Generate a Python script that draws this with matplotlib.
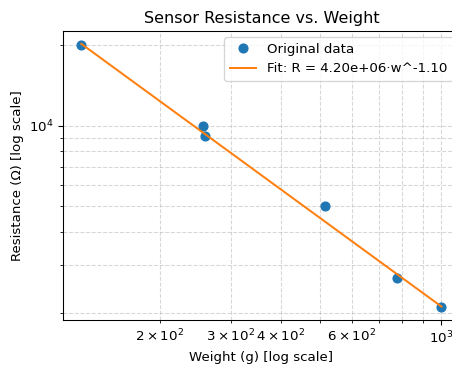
import numpy as np
import matplotlib
matplotlib.use("Agg")
import matplotlib.pyplot as plt

weights = [128, 256, 259, 515, 775, 1000]
resistance = [20000, 10000, 9100, 5000, 2700, 2100]
fit_a = 4.20e6
fit_b = -1.10

DPI = 96
fig = plt.figure(figsize=(452/DPI, 365/DPI), dpi=DPI)
ax = fig.add_axes([63.3/452, 45/365, (459.5-63.3)/452, (320-30.7)/365])

w = np.array(weights, dtype=float)
ax.plot(w, resistance, 'o', color='C0', ms=6.6, label='Original data')
ax.plot(w, fit_a * w**fit_b, '-', color='C1', label=f'Fit: R = {fit_a:.2e}·w^{fit_b:.2f}')
ax.set_xscale('log')
ax.set_yscale('log')
ax.grid(True, which='both', ls='--', alpha=0.5)
ax.set_xlabel('Weight (g) [log scale]')
ax.set_ylabel('Resistance (Ω) [log scale]')
ax.set_title('Sensor Resistance vs. Weight')
ax.legend(loc='upper right')
fig.savefig('out.png', dpi=DPI)
